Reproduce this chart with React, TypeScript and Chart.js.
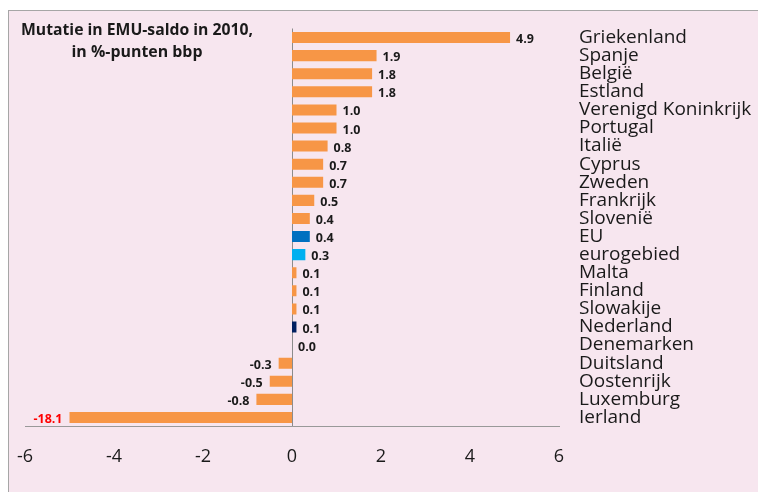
import React, { useEffect, useRef } from "react";
import { Chart, registerables } from "chart.js";

Chart.register(...registerables);

const categories = [
  "Griekenland", "Spanje", "België", "Estland", "Verenigd Koninkrijk", "Portugal",
  "Italië", "Cyprus", "Zweden", "Frankrijk", "Slovenië", "EU", "eurogebied",
  "Malta", "Finland", "Slowakije", "Nederland", "Denemarken", "Duitsland",
  "Oostenrijk", "Luxemburg", "Ierland",
];
const values = [
  4.9, 1.9, 1.8, 1.8, 1.0, 1.0, 0.8, 0.7, 0.7, 0.5, 0.4, 0.4, 0.3,
  0.1, 0.1, 0.1, 0.1, 0.0, -0.3, -0.5, -0.8, -18.1,
];
const xTicks = [-6, -4, -2, 0, 2, 4, 6];
const titleLines = ["Mutatie in EMU-saldo in 2010,", "in %-punten bbp"];
const barCap = -5; // broken bar: values below this are drawn cut off

const ORANGE = "#f79646";
const specialColors: Record<string, string> = {
  EU: "#0070c0",
  eurogebied: "#00b0f0",
  Nederland: "#002060",
};

function zeroPad(scale: any) {
  scale.paddingTop = 0;
  scale.paddingBottom = 0;
  scale.paddingLeft = 0;
  scale.paddingRight = 0;
}

export default function App() {
  const ref = useRef<HTMLCanvasElement | null>(null);

  useEffect(() => {
    if (!ref.current) return;
    const shown = values.map((v) => Math.max(v, barCap));
    const colors = categories.map((c) => specialColors[c] || ORANGE);

    const overlay = {
      id: "overlay",
      beforeDatasetsDraw(chart: any) {
        const { ctx, chartArea, scales } = chart;
        const x0 = Math.round(scales.x.getPixelForValue(0)) + 0.5;
        ctx.save();
        ctx.strokeStyle = "#8c8c8c";
        ctx.lineWidth = 1;
        ctx.beginPath();
        ctx.moveTo(x0, chartArea.top);
        ctx.lineTo(x0, chartArea.bottom);
        ctx.stroke();
        ctx.restore();
      },
      afterDatasetsDraw(chart: any) {
        const { ctx } = chart;
        const meta = chart.getDatasetMeta(0);
        ctx.save();
        ctx.textBaseline = "middle";
        meta.data.forEach((el: any, i: number) => {
          const v = values[i];
          const txt = v.toFixed(1);
          const clipped = v < barCap;
          ctx.font = "bold 12.5px 'Open Sans'";
          ctx.fillStyle = clipped ? "#ff0000" : "#1a1a1a";
          if (v >= 0) {
            ctx.textAlign = "left";
            ctx.fillText(txt, el.x + 6, el.y + 2);
          } else {
            ctx.textAlign = "right";
            ctx.fillText(txt, el.x - 7, el.y + 2);
          }
        });
        // title
        ctx.fillStyle = "#1a1a1a";
        ctx.textAlign = "center";
        ctx.font = "bold 16px 'Open Sans'";
        ctx.fillText(titleLines[0], 128, 19, 232);
        ctx.fillText(titleLines[1], 128, 41, 131);
        ctx.restore();
      },
    };

    const chart = new Chart(ref.current, {
      type: "bar",
      data: {
        labels: categories,
        datasets: [
          {
            data: shown,
            backgroundColor: colors,
            borderWidth: 0,
            barPercentage: 0.61,
            categoryPercentage: 1,
          },
        ],
      },
      options: {
        indexAxis: "y",
        animation: false,
        responsive: false,
        maintainAspectRatio: false,
        events: [],
        layout: { autoPadding: false, padding: { left: 16, top: 17.5, right: 0, bottom: 0 } },
        plugins: {
          legend: { display: false },
          tooltip: { enabled: false },
          title: { display: false },
        },
        scales: {
          x: {
            type: "linear",
            min: -6,
            max: 6,
            afterBuildTicks(scale: any) {
              scale.ticks = xTicks.map((v) => ({ value: v }));
            },
            afterFit(scale: any) {
              scale.height = 65.5;
              zeroPad(scale);
            },
            grid: { display: false, drawTicks: false },
            border: { display: true, color: "#999999", width: 1 },
            ticks: {
              padding: 20,
              color: "#1a1a1a",
              font: { family: "'Open Sans'", size: 18 },
              maxRotation: 0,
              callback: (v: any) => String(v),
            },
          },
          y: {
            position: "right",
            afterFit(scale: any) {
              scale.width = 199;
              zeroPad(scale);
            },
            grid: { display: false, drawTicks: false },
            border: { display: false },
            ticks: {
              autoSkip: false,
              padding: 20,
              color: "#1a1a1a",
              font: { family: "'Open Sans'", size: 19 },
            },
          },
        },
      },
      plugins: [overlay],
    } as any);

    return () => chart.destroy();
  }, []);

  return (
    <div
      style={{
        position: "fixed",
        left: 8,
        top: 10,
        width: 750,
        height: 482,
        boxSizing: "border-box",
        background: "#f7e6ef",
        borderTop: "1px solid #a6a6a6",
        borderLeft: "1px solid #a6a6a6",
      }}
    >
      <canvas ref={ref} width={749} height={481} style={{ display: "block", width: 749, height: 481 }} />
    </div>
  );
}
